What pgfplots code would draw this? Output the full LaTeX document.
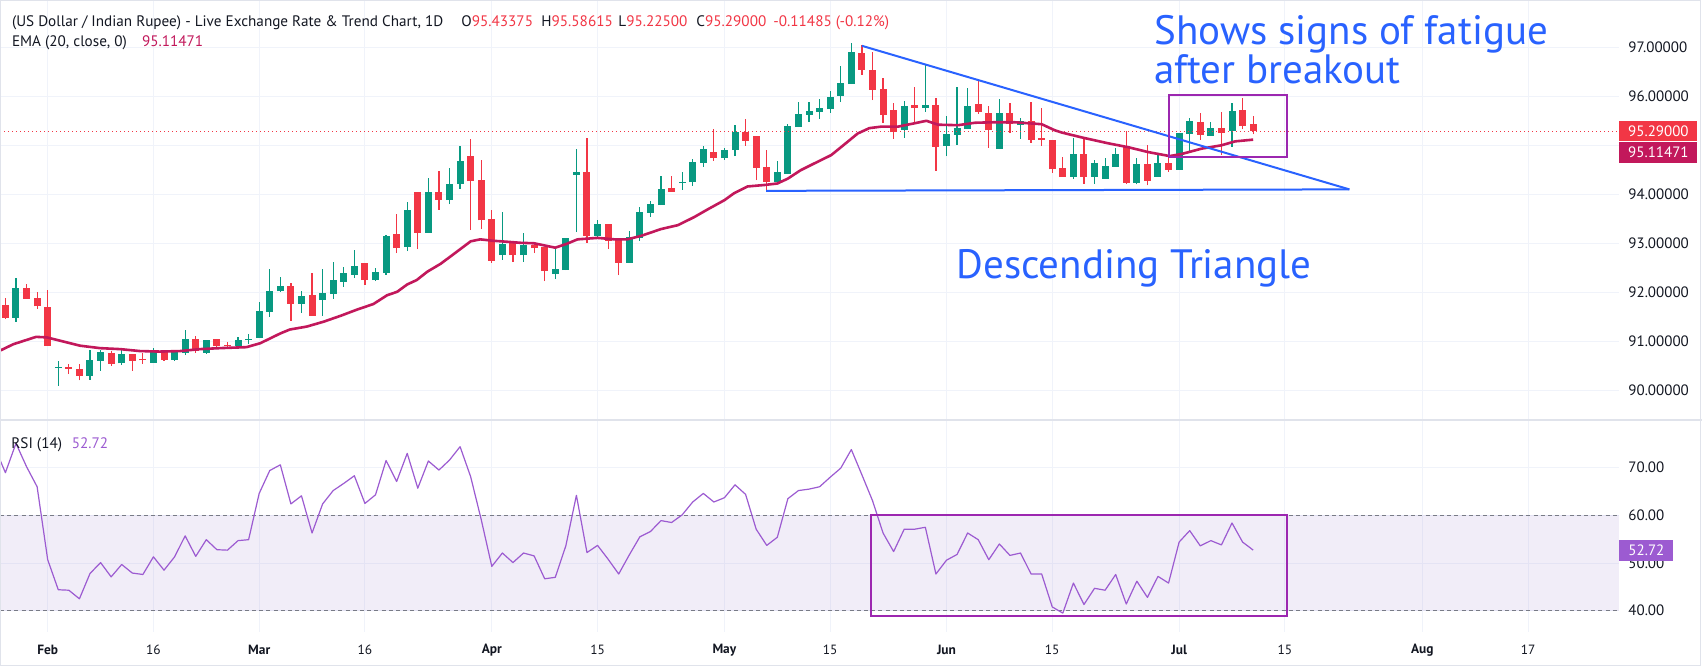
\documentclass[border=0pt]{standalone}
\usepackage{pgfplots}
\pgfplotsset{compat=1.18}
\usepackage{pgfplotstable}
\usepackage{fontspec}
\setmainfont{PT Sans}
\definecolor{tvgreen}{HTML}{089981}
\definecolor{tvred}{HTML}{F23645}
\definecolor{emacol}{HTML}{C2185B}
\definecolor{rsicol}{HTML}{9C5BD1}
\definecolor{bandbase}{HTML}{7E57C2}
\definecolor{gridcol}{HTML}{F0F3FA}
\definecolor{bordercol}{HTML}{E0E3EB}
\definecolor{txt}{HTML}{131722}
\definecolor{tvblue}{HTML}{2962FF}
\definecolor{boxpurple}{HTML}{9C27B0}
\definecolor{dashcol}{HTML}{787B86}

\pgfplotstableread{
i o h l c
-3 91.48 92.29 91.40 92.09
1 90.45 90.60 90.09 90.46
4 90.30 90.82 90.21 90.62
5 90.60 90.82 90.40 90.79
7 90.55 90.84 90.52 90.74
10 90.56 90.86 90.56 90.80
12 90.62 90.79 90.60 90.79
13 90.77 91.23 90.72 91.05
15 90.77 91.03 90.75 91.03
18 90.90 91.08 90.84 91.03
19 91.02 91.14 90.94 91.03
20 91.07 91.80 91.07 91.62
21 91.60 92.47 91.50 92.03
22 92.02 92.31 92.01 92.13
24 91.77 92.03 91.58 91.92
26 91.84 92.47 91.52 91.98
27 91.96 92.62 91.87 92.25
28 92.21 92.52 92.11 92.39
29 92.36 92.86 92.29 92.54
31 92.25 92.49 92.23 92.41
32 92.39 93.17 92.36 93.15
34 92.92 93.84 92.84 93.68
36 93.21 94.33 93.21 94.05
38 93.88 94.54 93.80 94.21
39 94.21 94.99 94.11 94.68
43 92.76 93.64 92.66 92.99
45 92.76 93.21 92.62 92.97
48 92.37 92.90 92.27 92.48
49 92.45 93.11 92.45 93.11
50 94.39 94.92 93.23 94.45
52 93.15 93.48 93.09 93.39
55 92.60 93.25 92.60 93.13
56 93.11 93.74 93.05 93.64
57 93.62 93.86 93.54 93.80
58 93.78 94.37 93.78 94.11
60 94.23 94.45 94.09 94.25
61 94.25 94.72 94.17 94.66
62 94.64 94.99 94.56 94.93
64 94.74 94.94 94.70 94.90
65 94.90 95.41 94.78 95.27
69 94.25 94.68 94.25 94.45
70 94.41 95.43 94.41 95.39
71 95.37 95.88 95.37 95.64
72 95.62 95.88 95.48 95.70
73 95.68 95.94 95.54 95.76
74 95.74 96.11 95.66 95.99
75 96.01 96.62 95.88 96.27
76 96.25 97.09 96.25 96.90
81 95.31 95.90 95.15 95.80
83 95.76 96.64 95.68 95.82
85 94.99 95.60 94.78 95.23
86 95.21 96.19 95.01 95.35
87 95.33 96.17 95.33 95.80
90 94.92 95.94 94.92 95.66
92 95.41 95.56 95.13 95.50
97 94.36 95.15 94.31 94.82
99 94.36 94.70 94.22 94.64
100 94.32 94.74 94.32 94.58
101 94.56 94.95 94.56 94.82
103 94.24 94.74 94.20 94.62
105 94.36 94.84 94.36 94.64
107 94.50 95.25 94.50 95.25
108 95.23 95.56 94.86 95.50
110 95.19 95.48 95.19 95.35
112 95.29 95.86 94.97 95.70
}\greencandles

\pgfplotstableread{
i o h l c
-4 91.74 91.89 91.46 91.48
-2 92.09 92.16 91.87 91.87
-1 91.88 92.00 91.66 91.71
0 91.70 92.05 90.91 90.91
2 90.45 90.53 90.33 90.44
3 90.43 90.54 90.20 90.30
6 90.76 90.80 90.50 90.54
8 90.74 90.75 90.40 90.60
9 90.62 90.77 90.54 90.61
11 90.80 90.82 90.60 90.62
14 91.05 91.11 90.77 90.80
16 91.05 91.05 90.84 90.90
17 90.91 90.98 90.84 90.90
23 92.13 92.19 91.42 91.77
25 91.94 92.39 91.52 91.52
30 92.60 92.60 92.15 92.25
33 93.19 93.60 92.80 92.90
35 94.05 94.05 92.88 93.21
37 94.05 94.48 93.68 93.88
40 94.78 95.13 93.27 94.27
41 94.29 94.70 93.29 93.47
42 93.50 93.68 92.60 92.64
44 93.01 93.01 92.62 92.76
46 92.97 92.99 92.80 92.90
47 92.92 92.92 92.23 92.43
51 94.45 95.15 93.01 93.15
53 93.39 93.39 92.88 93.05
54 93.07 93.07 92.35 92.60
59 94.13 94.37 94.05 94.05
63 94.86 95.33 94.68 94.74
66 95.27 95.54 94.99 95.09
67 95.19 95.19 94.29 94.54
68 94.56 94.90 94.05 94.25
77 96.88 97.05 96.44 96.54
78 96.54 96.90 95.92 96.13
79 96.15 96.37 95.46 95.62
80 95.72 95.86 95.13 95.27
82 95.82 96.19 95.48 95.76
84 95.82 95.96 94.48 94.97
88 95.84 96.31 95.64 95.68
89 95.66 95.80 94.95 95.31
91 95.66 95.86 95.25 95.43
93 95.50 95.88 95.05 95.11
94 95.15 95.76 94.99 95.11
95 95.11 95.11 94.44 94.51
96 94.54 94.76 94.36 94.36
98 94.82 95.15 94.22 94.36
102 94.97 95.29 94.22 94.24
104 94.62 95.01 94.18 94.28
106 94.64 94.74 94.46 94.50
109 95.48 95.66 95.11 95.21
111 95.35 95.68 94.80 95.25
113 95.72 95.97 95.33 95.39
114 95.43 95.59 95.23 95.29
}\redcandles

\pgfplotstableread{
i v
-4.5 90.81
-3.25 90.94
-1.1 91.09
-0.1 91.08
1.2 91.01
3.06 90.91
4.95 90.86
6.85 90.84
8.74 90.80
10.6 90.79
12.5 90.80
14.4 90.84
16.3 90.86
18.8 90.88
20.1 90.96
22.0 91.16
22.9 91.24
24.5 91.30
26.1 91.40
27.7 91.52
29.3 91.65
30.8 91.76
32.1 91.94
33.05 92.01
34.0 92.16
34.9 92.25
35.9 92.42
37.15 92.58
38.4 92.78
40.0 93.04
40.9 93.08
42.2 93.05
43.5 93.03
44.7 93.01
46.0 93.00
48.0 92.91
49.1 92.99
50.1 93.08
52.0 93.11
53.6 93.08
54.8 93.08
56.1 93.15
58.0 93.29
59.6 93.37
61.1 93.53
62.4 93.69
64.0 93.88
64.9 94.02
66.2 94.16
67.8 94.19
69.0 94.22
70.0 94.32
71.2 94.49
72.5 94.63
74.1 94.80
75.3 95.01
76.6 95.24
77.7 95.35
78.8 95.38
80.4 95.38
82.0 95.45
83.1 95.50
84.2 95.42
86.1 95.41
87.7 95.46
89.55 95.47
91.45 95.47
94.0 95.43
95.2 95.31
95.9 95.26
97.8 95.16
100.3 95.04
102.2 94.96
104.1 94.86
106.1 94.78
107.2 94.82
109.1 94.93
111.0 95.00
112.3 95.08
114 95.115
}\ema

\pgfplotstableread{
i v
-5 74.2
-4 68.95
-3 75.1
-2 70.2
-1 66.0
0 50.7
1 44.4
2 44.3
3 42.5
4 47.8
5 50.1
6 47.1
7 49.7
8 47.9
9 47.6
10 51.3
11 48.5
12 51.3
13 55.7
14 51.4
15 54.9
16 52.8
17 52.7
18 54.7
19 54.9
20 64.6
21 69.4
22 70.6
23 62.4
24 64.1
25 56.3
26 62.4
27 65.2
28 66.7
29 68.3
30 62.5
31 64.3
32 71.5
33 67.1
34 73.0
35 65.7
36 71.4
37 69.5
38 71.6
39 74.4
40 68.1
41 59.1
42 49.3
43 52.1
44 50.1
45 52.1
46 51.5
47 46.7
48 47.0
49 53.6
50 64.2
51 52.2
52 53.7
53 50.8
54 47.7
55 51.7
56 55.5
57 56.6
58 58.9
59 58.5
60 60.1
61 62.8
62 64.6
63 62.8
64 63.7
65 66.4
66 64.4
67 57.1
68 53.7
69 55.4
70 63.5
71 65.2
72 65.5
73 66.0
74 68.0
75 69.9
76 73.8
77 68.5
78 63.1
79 56.3
80 52.4
81 57.1
82 57.1
83 57.5
84 47.7
85 50.6
86 51.8
87 56.3
88 54.9
89 50.7
90 54.0
91 51.6
92 52.1
93 47.7
94 47.7
95 40.8
96 39.5
97 45.8
98 41.3
99 44.7
100 44.3
101 47.6
102 41.4
103 46.2
104 42.8
105 47.2
106 45.8
107 54.4
108 56.8
109 53.6
110 54.7
111 53.8
112 58.4
113 54.4
114 52.72
}\rsi

\newcommand\hdr{\fontsize{7.6}{9}\selectfont}
\newcommand\tck{\fontsize{7.5}{9}\selectfont}
\newcommand\xtck{\fontsize{6.7}{8}\selectfont}
\newcommand\bigann{\fontsize{20.5}{24}\selectfont}

\begin{document}
\begin{tikzpicture}[x=1pt,y=1pt]
\path[use as bounding box] (0pt,0pt) rectangle (851pt,335.5pt);
\fill[white] (0pt,0pt) rectangle (851pt,335.5pt);

% ---------------- price pane ----------------
\begin{axis}[
  at={(0pt,335.5pt)}, anchor=north west, scale only axis,
  width=809.5pt, height=209.5pt,
  xmin=-4.511, xmax=148.6, ymin=89.414, ymax=97.965,
  axis line style={draw=none}, major tick length=0pt,
  xtick={0,10,20,30,42,52,64,74,85,95,107,117,130,140}, xticklabels={},
  ytick={90,91,92,93,94,96,97}, yticklabel pos=right,
  extra y ticks={95}, extra y tick labels={},
  yticklabel={\pgfmathprintnumber[fixed,fixed zerofill,precision=5,assume math mode=true]{\tick}},
  yticklabel style={anchor=west, inner sep=0pt, xshift=4.5pt, font=\tck, text=txt},
  grid=major, major grid style={gridcol, line width=0.5pt},
  extra tick style={grid=major, major grid style={gridcol, line width=0.5pt}},
  clip mode=individual,
]
% wicks
\addplot[draw=none, mark=none, forget plot,
  error bars/.cd, y dir=plus, y explicit, error mark=none,
  error bar style={draw=tvgreen, solid, line width=0.6pt}]
  table[x=i, y=l, y error expr=\thisrow{h}-\thisrow{l}] {\greencandles};
\addplot[draw=none, mark=none, forget plot,
  error bars/.cd, y dir=plus, y explicit, error mark=none,
  error bar style={draw=tvred, solid, line width=0.6pt}]
  table[x=i, y=l, y error expr=\thisrow{h}-\thisrow{l}] {\redcandles};
% bodies
\addplot[draw=none, mark=none, forget plot,
  error bars/.cd, y dir=plus, y explicit, error mark=none,
  error bar style={draw=tvgreen, solid, line width=3.5pt}]
  table[x=i, y=o, y error expr={max(\thisrow{c}-\thisrow{o},0.025)}] {\greencandles};
\addplot[draw=none, mark=none, forget plot,
  error bars/.cd, y dir=plus, y explicit, error mark=none,
  error bar style={draw=tvred, solid, line width=3.5pt}]
  table[x=i, y=c, y error expr={max(\thisrow{o}-\thisrow{c},0.025)}] {\redcandles};
% last price line
\addplot[tvred, line width=0.5pt, dash pattern=on 0.6pt off 1.4pt] coordinates {(-4.511,95.29) (148.6,95.29)};
% EMA
\addplot[emacol, line width=1.3pt, line join=round] table[x=i, y=v] {\ema};
% triangle
\addplot[tvblue, line width=1pt] coordinates {(77,97.03) (123.1,94.10)};
\addplot[tvblue, line width=1pt] coordinates {(67.95,94.07) (123.1,94.10)};
% box
\addplot[boxpurple, line width=1pt] coordinates {(106.06,96.03) (117.2,96.03) (117.2,94.755) (106.06,94.755)} --cycle;
% price labels
\node[fill=tvred, text=white, anchor=west, minimum width=39pt, minimum height=10.35pt, inner sep=0pt, font=\tck] at (axis cs:148.6,95.29) {95.29000};
\node[fill=emacol, text=white, anchor=west, minimum width=39pt, minimum height=10.35pt, inner sep=0pt, font=\tck] at (axis cs:148.6,94.85) {95.11471};
\end{axis}

% ---------------- RSI pane ----------------
\begin{axis}[
  at={(0pt,125.15pt)}, anchor=north west, scale only axis,
  width=809.5pt, height=105.5pt,
  xmin=-4.511, xmax=148.6, ymin=35.6, ymax=79.85,
  axis line style={draw=none}, major tick length=0pt,
  xtick={0,10,20,30,42,52,64,74,85,95,107,117,130,140},
  xticklabels={\textbf{Feb},16,\textbf{Mar},16,\textbf{Apr},15,\textbf{May},15,\textbf{Jun},15,\textbf{Jul},15,\textbf{Aug},17},
  xticklabel style={anchor=center, inner sep=0pt, yshift=-9.2pt, font=\xtck, text=txt},
  ytick={40,50,60,70}, yticklabel pos=right,
  yticklabel={\pgfmathprintnumber[fixed,fixed zerofill,precision=2,assume math mode=true]{\tick}},
  yticklabel style={anchor=west, inner sep=0pt, xshift=4.5pt, font=\tck, text=txt},
  grid=major, major grid style={gridcol, line width=0.5pt},
  clip mode=individual,
]
\addplot[draw=none, fill=bandbase, fill opacity=0.1] coordinates {(-4.511,40) (148.6,40) (148.6,60) (-4.511,60)} --cycle;
\addplot[dashcol, line width=0.5pt, dash pattern=on 2pt off 1.6pt] coordinates {(-4.511,60) (148.6,60)};
\addplot[dashcol, line width=0.5pt, dash pattern=on 2pt off 1.6pt] coordinates {(-4.511,40) (148.6,40)};
\addplot[rsicol, line width=0.6pt, line join=round] table[x=i, y=v] {\rsi};
\addplot[boxpurple, line width=1pt] coordinates {(77.9,60) (117.2,60) (117.2,38.9) (77.9,38.9)} --cycle;
\node[fill=rsicol, text=white, anchor=west, minimum width=27pt, minimum height=10.35pt, inner sep=0pt, font=\tck] at (axis cs:148.6,52.66) {52.72};
\end{axis}

% separators and frame
\draw[bordercol, line width=0.6pt] (0pt,125.5pt) -- (851pt,125.5pt);
\draw[bordercol, line width=0.6pt] (0.3pt,2.8pt) rectangle (850.2pt,335.2pt);

% header
\node[anchor=base west, inner sep=0pt, font=\hdr, text=txt] at (5.8pt,322.1pt) {(US Dollar / Indian Rupee) - Live Exchange Rate \& Trend Chart, 1D};
\node[anchor=base west, inner sep=0pt, font=\hdr, text=txt] at (230.5pt,322.1pt) {O\textcolor{tvred}{95.43375}};
\node[anchor=base west, inner sep=0pt, font=\hdr, text=txt] at (270.5pt,322.1pt) {H\textcolor{tvred}{95.58615}};
\node[anchor=base west, inner sep=0pt, font=\hdr, text=txt] at (309pt,322.1pt) {L\textcolor{tvred}{95.22500}};
\node[anchor=base west, inner sep=0pt, font=\hdr, text=txt] at (348pt,322.1pt) {C\textcolor{tvred}{95.29000}};
\node[anchor=base west, inner sep=0pt, font=\hdr, text=tvred] at (386.5pt,322.1pt) {-0.11485 (-0.12\%)};
\node[anchor=base west, inner sep=0pt, font=\hdr, text=txt] at (5.8pt,312.1pt) {EMA (20, close, 0)};
\node[anchor=base west, inner sep=0pt, font=\hdr, text=emacol] at (70.8pt,312.1pt) {95.11471};
\node[anchor=base west, inner sep=0pt, font=\hdr, text=txt] at (5.5pt,111.35pt) {RSI (14)};
\node[anchor=base west, inner sep=0pt, font=\hdr, text=rsicol] at (35.7pt,111.35pt) {52.72};

% annotations
\node[anchor=base west, inner sep=0pt, font=\bigann, text=tvblue] at (577pt,313pt) {Shows signs of fatigue};
\node[anchor=base west, inner sep=0pt, font=\bigann, text=tvblue] at (577pt,293.5pt) {after breakout};
\node[anchor=base west, inner sep=0pt, font=\bigann, text=tvblue] at (478pt,196.35pt) {Descending Triangle};
\end{tikzpicture}
\end{document}
